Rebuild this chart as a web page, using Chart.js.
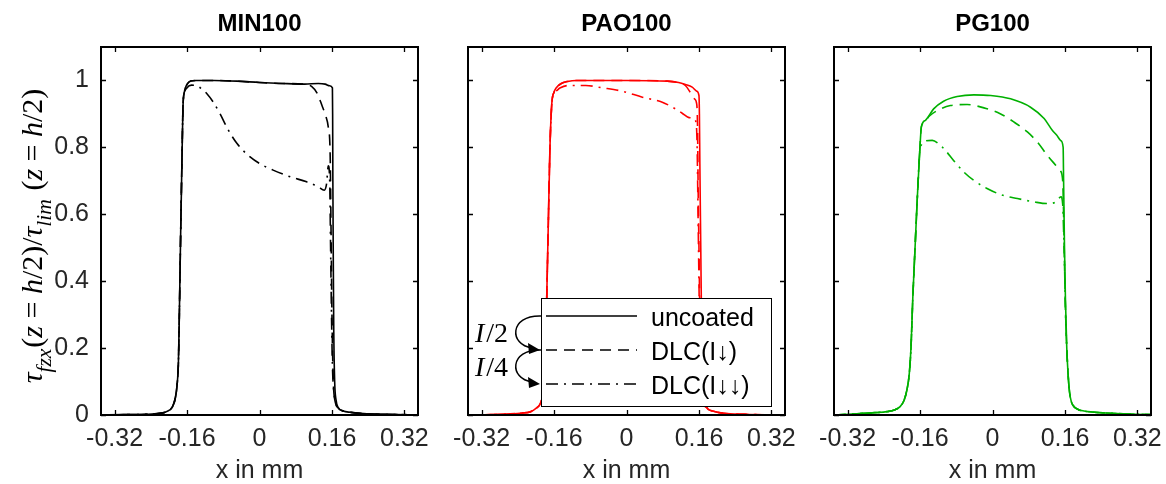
<!DOCTYPE html>
<html><head><meta charset="utf-8">
<script src="https://cdn.jsdelivr.net/npm/chart.js@4.4.0/dist/chart.umd.min.js"></script>
<style>
html,body{margin:0;padding:0;background:#fff;}
#wrap{position:relative;width:1166px;height:484px;overflow:hidden;background:#fff;}
#wrap canvas{position:absolute;left:0;top:0;}
</style></head><body>
<div id="wrap">
<canvas id="c1" width="1166" height="484"></canvas>
<canvas id="c2" width="1166" height="484"></canvas>
<canvas id="c3" width="1166" height="484"></canvas>
</div>
<script>
// ---------- data ----------
const xTickVals = [-0.32, -0.16, 0, 0.16, 0.32];
const xTickLabels = ['-0.32', '-0.16', '0', '0.16', '0.32'];
const yTickVals = [0, 0.2, 0.4, 0.6, 0.8, 1];
const yTickLabels = ['0', '0.2', '0.4', '0.6', '0.8', '1'];
const panelTitles = ['MIN100', 'PAO100', 'PG100'];
const seriesNames = ['uncoated', 'DLC(I\u2193)', 'DLC(I\u2193\u2193)'];

// MIN100
const minUncX = [-0.35,-0.30,-0.25,-0.22,-0.205,-0.192,-0.186,-0.182,-0.179,-0.177,-0.174,-0.171,-0.169,-0.166,-0.160,-0.152,-0.140,-0.10,-0.05,0,0.05,0.10,0.13,0.145,0.155,0.161,0.1615,0.162,0.163,0.164,0.166,0.169,0.174,0.185,0.20,0.23,0.28,0.35];
const minUncY = [0,0.001,0.002,0.005,0.01,0.025,0.05,0.09,0.16,0.3,0.55,0.78,0.92,0.965,0.988,0.998,1.0,1.0,0.998,0.994,0.991,0.989,0.991,0.989,0.984,0.978,0.9,0.7,0.45,0.25,0.1,0.045,0.022,0.012,0.008,0.004,0.002,0.0005];
const minDlc1X = [-0.35,-0.30,-0.25,-0.22,-0.205,-0.192,-0.186,-0.182,-0.179,-0.177,-0.174,-0.171,-0.169,-0.166,-0.160,-0.152,-0.140,-0.10,-0.05,0,0.05,0.10,0.115,0.128,0.138,0.146,0.152,0.156,0.158,0.160,0.163,0.167,0.173,0.185,0.20,0.23,0.28,0.35];
const minDlc1Y = [0,0.001,0.002,0.005,0.01,0.025,0.05,0.09,0.16,0.3,0.55,0.78,0.92,0.965,0.988,0.998,1.0,1.0,0.998,0.994,0.991,0.989,0.982,0.96,0.925,0.895,0.86,0.78,0.55,0.3,0.1,0.045,0.022,0.012,0.008,0.004,0.002,0.0005];
const minDlc2X = [-0.35,-0.30,-0.25,-0.22,-0.205,-0.192,-0.186,-0.182,-0.179,-0.177,-0.174,-0.171,-0.169,-0.166,-0.160,-0.150,-0.140,-0.128,-0.117,-0.102,-0.087,-0.069,-0.05,-0.028,0,0.03,0.068,0.104,0.13,0.143,0.148,0.152,0.155,0.157,0.159,0.161,0.164,0.168,0.175,0.185,0.20,0.23,0.28,0.35];
const minDlc2Y = [0,0.001,0.002,0.005,0.01,0.025,0.05,0.09,0.16,0.3,0.55,0.78,0.92,0.96,0.978,0.986,0.985,0.975,0.962,0.935,0.90,0.852,0.812,0.78,0.752,0.732,0.712,0.697,0.682,0.672,0.69,0.745,0.70,0.5,0.3,0.15,0.07,0.035,0.018,0.012,0.008,0.004,0.002,0.0005];

// PAO100
const paoUncX = [-0.35,-0.30,-0.26,-0.23,-0.212,-0.200,-0.190,-0.184,-0.180,-0.177,-0.173,-0.169,-0.165,-0.160,-0.155,-0.145,-0.130,-0.110,0,0.09,0.115,0.13,0.145,0.155,0.160,0.161,0.162,0.164,0.166,0.169,0.173,0.179,0.19,0.215,0.26,0.35];
const paoUncY = [0,0.001,0.003,0.006,0.01,0.02,0.035,0.07,0.15,0.3,0.55,0.8,0.93,0.965,0.978,0.99,0.997,1.0,1.0,0.998,0.994,0.988,0.98,0.968,0.955,0.9,0.75,0.5,0.25,0.1,0.045,0.02,0.012,0.005,0.002,0];
const paoDlc1X = [-0.35,-0.30,-0.26,-0.23,-0.212,-0.200,-0.190,-0.184,-0.180,-0.177,-0.173,-0.169,-0.165,-0.160,-0.155,-0.145,-0.130,-0.110,0,0.09,0.115,0.13,0.142,0.150,0.155,0.157,0.158,0.160,0.162,0.165,0.169,0.175,0.19,0.215,0.26,0.35];
const paoDlc1Y = [0,0.001,0.003,0.006,0.01,0.02,0.035,0.07,0.15,0.3,0.55,0.8,0.93,0.965,0.978,0.99,0.997,1.0,1.0,0.998,0.993,0.985,0.962,0.945,0.93,0.85,0.7,0.5,0.3,0.12,0.05,0.025,0.012,0.005,0.002,0];
const paoDlc2X = [-0.35,-0.30,-0.26,-0.23,-0.212,-0.200,-0.190,-0.184,-0.180,-0.177,-0.173,-0.169,-0.165,-0.160,-0.152,-0.146,-0.128,-0.09,-0.054,-0.01,0.035,0.079,0.108,0.123,0.138,0.149,0.154,0.156,0.158,0.160,0.162,0.165,0.17,0.177,0.19,0.215,0.26,0.35];
const paoDlc2Y = [0,0.001,0.003,0.006,0.01,0.02,0.035,0.07,0.15,0.3,0.55,0.8,0.93,0.96,0.972,0.978,0.985,0.985,0.978,0.968,0.95,0.935,0.915,0.902,0.889,0.886,0.87,0.8,0.6,0.4,0.2,0.09,0.04,0.02,0.012,0.005,0.002,0];

// PG100
const pgUncX = [-0.35,-0.32,-0.285,-0.26,-0.233,-0.215,-0.204,-0.195,-0.189,-0.184,-0.180,-0.176,-0.171,-0.166,-0.161,-0.157,-0.148,-0.130,-0.108,-0.078,-0.041,-0.004,0.04,0.084,0.114,0.132,0.142,0.151,0.156,0.157,0.159,0.161,0.164,0.167,0.170,0.174,0.180,0.19,0.202,0.225,0.25,0.30,0.35];
const pgUncY = [0,0.002,0.005,0.007,0.01,0.016,0.025,0.045,0.075,0.12,0.2,0.35,0.5,0.65,0.78,0.862,0.881,0.915,0.938,0.952,0.957,0.955,0.945,0.92,0.886,0.851,0.836,0.82,0.80,0.7,0.5,0.35,0.2,0.12,0.07,0.04,0.025,0.016,0.012,0.008,0.006,0.003,0.001];
const pgDlc1X = [-0.35,-0.32,-0.285,-0.26,-0.233,-0.215,-0.204,-0.195,-0.189,-0.184,-0.180,-0.176,-0.171,-0.166,-0.161,-0.157,-0.150,-0.140,-0.122,-0.093,-0.056,-0.019,0.018,0.047,0.077,0.099,0.121,0.140,0.150,0.155,0.157,0.159,0.161,0.164,0.167,0.170,0.174,0.180,0.19,0.202,0.225,0.25,0.30,0.35];
const pgDlc1Y = [0,0.002,0.005,0.007,0.01,0.016,0.025,0.045,0.075,0.12,0.2,0.35,0.5,0.65,0.78,0.862,0.875,0.893,0.91,0.925,0.928,0.918,0.90,0.876,0.846,0.816,0.776,0.746,0.73,0.70,0.6,0.45,0.32,0.2,0.12,0.07,0.04,0.025,0.016,0.012,0.008,0.006,0.003,0.001];
const pgDlc2X = [-0.35,-0.32,-0.285,-0.26,-0.233,-0.215,-0.204,-0.195,-0.189,-0.184,-0.180,-0.176,-0.171,-0.166,-0.161,-0.156,-0.148,-0.133,-0.119,-0.104,-0.086,-0.063,-0.041,-0.012,0.018,0.055,0.092,0.121,0.140,0.151,0.155,0.157,0.159,0.161,0.164,0.167,0.170,0.174,0.180,0.19,0.202,0.225,0.25,0.30,0.35];
const pgDlc2Y = [0,0.002,0.005,0.007,0.01,0.016,0.025,0.045,0.075,0.12,0.2,0.35,0.5,0.65,0.78,0.81,0.819,0.821,0.811,0.791,0.761,0.726,0.701,0.677,0.659,0.647,0.637,0.632,0.637,0.652,0.63,0.55,0.45,0.32,0.2,0.12,0.07,0.04,0.025,0.016,0.012,0.008,0.006,0.003,0.001];

// ---------- styling / layout ----------
const W = 1166, H = 484;
const PLOT_TOP = 47, PLOT_BOTTOM = 415, PLOT_W = 317;
const PLOT_LEFTS = [101, 468, 834];
const COLORS = ['#000000', '#ff0000', '#00b000'];
const DASHES = [[], [11, 7], [12, 6, 2, 6]];
const SANS = '"Liberation Sans", Arial, "DejaVu Sans", sans-serif';
const SERIF = '"Liberation Serif", "Times New Roman", serif';
const TICK_COLOR = '#262626';
const TICK_FONT = 25;

function zip(xs, ys) { return xs.map((x, i) => ({x: x, y: ys[i]})); }

const yLabelSegs = [
  {t: '\u03c4', it: true}, {t: 'fzx', it: true, sub: true}, {t: '(', it: false}, {t: 'z', it: true},
  {t: ' = ', it: false}, {t: 'h', it: true}, {t: '/2)/', it: false}, {t: '\u03c4', it: true},
  {t: 'lim', it: true, sub: true}, {t: ' (', it: false}, {t: 'z', it: true}, {t: ' = ', it: false},
  {t: 'h', it: true}, {t: '/2)', it: false}
];

function drawMath(ctx, segs, cx, cy, targetLen) {
  const fontFor = (s, size) => (s.it ? 'italic ' : '') + (s.sub ? size * 0.72 : size) + 'px ' + SERIF;
  let tot = 0;
  segs.forEach(s => { ctx.font = fontFor(s, 100); tot += ctx.measureText(s.t).width; });
  const size = Math.min(30, 100 * targetLen / tot);
  let total = 0;
  segs.forEach(s => { ctx.font = fontFor(s, size); s.w = ctx.measureText(s.t).width; total += s.w; });
  ctx.save();
  ctx.translate(cx, cy);
  ctx.rotate(-Math.PI / 2);
  ctx.fillStyle = '#000';
  ctx.textBaseline = 'alphabetic';
  ctx.textAlign = 'left';
  let x = -total / 2;
  segs.forEach(s => { ctx.font = fontFor(s, size); ctx.fillText(s.t, x, s.sub ? size * 0.3 : 0); x += s.w + (s.sub ? 1 : 0); });
  ctx.restore();
}

const decorPlugin = {
  id: 'decor',
  afterDatasetsDraw(chart, args, opts) {
    const ctx = chart.ctx, a = chart.chartArea, xs = chart.scales.x, ys = chart.scales.y;
    ctx.save();
    ctx.strokeStyle = '#000';
    ctx.lineWidth = 1.3;
    ctx.setLineDash([]);
    ctx.beginPath();
    xTickVals.forEach(v => {
      const p = Math.round(xs.getPixelForValue(v)) + 0.5;
      ctx.moveTo(p, a.bottom); ctx.lineTo(p, a.bottom - 5);
      ctx.moveTo(p, a.top); ctx.lineTo(p, a.top + 5);
    });
    yTickVals.forEach(v => {
      const p = Math.round(ys.getPixelForValue(v)) + 0.5;
      ctx.moveTo(a.left, p); ctx.lineTo(a.left + 5, p);
      ctx.moveTo(a.right, p); ctx.lineTo(a.right - 5, p);
    });
    ctx.stroke();
    ctx.lineWidth = 2;
    ctx.strokeRect(a.left, a.top, a.right - a.left, a.bottom - a.top);
    ctx.restore();
  },
  afterDraw(chart, args, opts) {
    const ctx = chart.ctx, a = chart.chartArea;
    ctx.save();
    // title
    ctx.fillStyle = '#000';
    ctx.font = 'bold 24px ' + SANS;
    ctx.textAlign = 'center';
    ctx.textBaseline = 'alphabetic';
    ctx.fillText(opts.title, (a.left + a.right) / 2, 31);
    if (opts.yLabel) {
      drawMath(ctx, yLabelSegs, 42, 237, 335);
    }
    if (opts.legend) {
      const L = a.left + 73, T = a.top + 251, LW = 230, LH = 108;
      ctx.fillStyle = '#fff';
      ctx.fillRect(L, T, LW, LH);
      ctx.strokeStyle = '#000';
      ctx.lineWidth = 1;
      ctx.strokeRect(L + 0.5, T + 0.5, LW, LH);
      const rows = [T + 18, T + 52, T + 86];
      ctx.lineWidth = 1.5;
      rows.forEach((ry, i) => {
        ctx.setLineDash(DASHES[i]);
        ctx.beginPath(); ctx.moveTo(L + 5, ry); ctx.lineTo(L + 96, ry); ctx.stroke();
      });
      ctx.setLineDash([]);
      ctx.fillStyle = '#000';
      ctx.font = '25px ' + SANS;
      ctx.textAlign = 'left';
      rows.forEach((ry, i) => ctx.fillText(seriesNames[i], L + 110, ry + 9.5));
      // arrows I/2, I/4
      ctx.lineWidth = 1.5;
      for (let k = 0; k < 2; k++) {
        const y0 = rows[k], y1 = rows[k + 1];
        ctx.beginPath();
        ctx.moveTo(L, y0);
        ctx.bezierCurveTo(L - 32, y0 - 1, L - 32, y1 - 5, L - 9, y1 - 2);
        ctx.stroke();
        ctx.beginPath();
        ctx.moveTo(L - 1, y1);
        ctx.lineTo(L - 13, y1 - 7);
        ctx.lineTo(L - 12, y1 + 4);
        ctx.closePath();
        ctx.fill();
      }
      const labs = [['I', '/2'], ['I', '/4']];
      const by = [rows[0] + 26, rows[1] + 26];
      labs.forEach((lb, k) => {
        let x = L - 66;
        ctx.font = 'italic 28px ' + SERIF;
        ctx.fillText(lb[0], x, by[k]);
        x += ctx.measureText(lb[0]).width + 2;
        ctx.font = '28px ' + SERIF;
        ctx.fillText(lb[1], x, by[k]);
      });
    }
    ctx.restore();
  }
};

function makePanel(id, idx, seriesX, seriesY) {
  const left = PLOT_LEFTS[idx];
  const yW = idx === 0 ? 101 : 0;
  const datasets = seriesX.map((xs, i) => ({
    label: seriesNames[i],
    data: zip(xs, seriesY[i]),
    borderColor: COLORS[idx],
    backgroundColor: COLORS[idx],
    borderWidth: 1.6,
    borderDash: DASHES[i],
    pointRadius: 0,
    fill: false,
    cubicInterpolationMode: 'monotone'
  }));
  return new Chart(document.getElementById(id), {
    type: 'line',
    data: {datasets: datasets},
    options: {
      responsive: false,
      animation: false,
      devicePixelRatio: 1,
      events: [],
      layout: {padding: {left: left - yW, right: W - (left + PLOT_W), top: PLOT_TOP, bottom: 0}},
      plugins: {
        legend: {display: false},
        tooltip: {enabled: false},
        decor: {title: panelTitles[idx], yLabel: idx === 0, legend: idx === 1}
      },
      scales: {
        x: {
          type: 'linear', min: -0.35, max: 0.35,
          grid: {display: false, drawTicks: false},
          border: {display: false},
          afterBuildTicks: s => { s.ticks = xTickVals.map(v => ({value: v})); },
          afterFit: s => { s.height = H - PLOT_BOTTOM; s.paddingLeft = 0; s.paddingRight = 0; },
          ticks: {
            autoSkip: false, maxRotation: 0, padding: 9, color: TICK_COLOR,
            font: {size: TICK_FONT, family: SANS},
            callback: (v, i) => xTickLabels[i]
          },
          title: {display: true, text: 'x in mm', color: TICK_COLOR, font: {size: TICK_FONT, family: SANS}, padding: {top: 0, bottom: -2}}
        },
        y: {
          type: 'linear', min: 0, max: 1.1,
          grid: {display: false, drawTicks: false},
          border: {display: false},
          afterBuildTicks: s => { s.ticks = yTickVals.map(v => ({value: v})); },
          afterFit: s => { s.width = yW; s.paddingTop = 0; s.paddingBottom = 0; },
          ticks: {
            display: idx === 0, autoSkip: false, padding: 12, color: TICK_COLOR,
            font: {size: TICK_FONT, family: SANS},
            callback: (v, i) => yTickLabels[i]
          }
        }
      }
    },
    plugins: [decorPlugin]
  });
}

makePanel('c1', 0, [minUncX, minDlc1X, minDlc2X], [minUncY, minDlc1Y, minDlc2Y]);
makePanel('c2', 1, [paoUncX, paoDlc1X, paoDlc2X], [paoUncY, paoDlc1Y, paoDlc2Y]);
makePanel('c3', 2, [pgUncX, pgDlc1X, pgDlc2X], [pgUncY, pgDlc1Y, pgDlc2Y]);
</script>
</body></html>
